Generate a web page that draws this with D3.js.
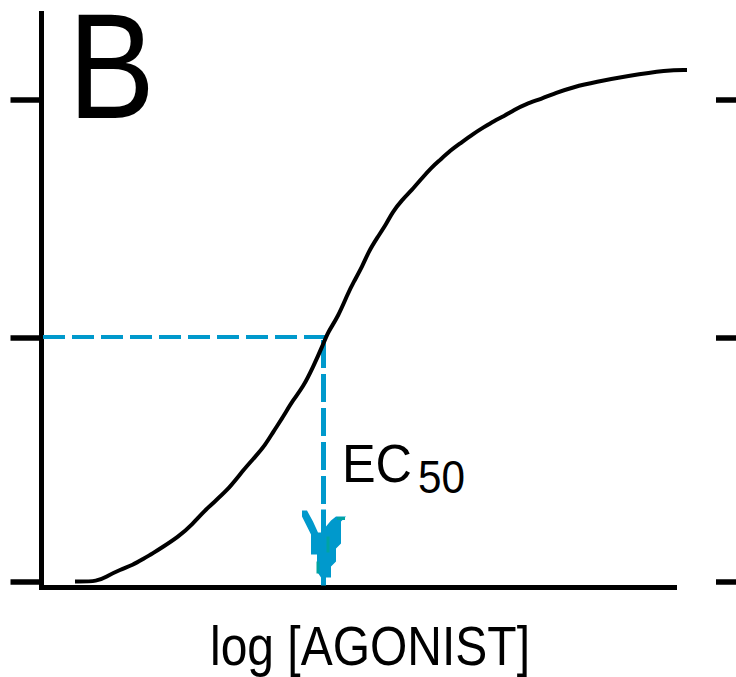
<!DOCTYPE html>
<html>
<head>
<meta charset="utf-8">
<script src="https://cdn.jsdelivr.net/npm/d3@7/dist/d3.min.js"></script>
<style>
  html, body { margin: 0; padding: 0; background: #fff; }
  svg { display: block; }
  text { font-family: "Liberation Sans", Arial, sans-serif; fill: #000; }
</style>
</head>
<body>
<svg id="chart"></svg>
<script>
// Dose-response curve (log agonist vs % response)
const logDose = [-9.65, -9.42, -9.33, -9.20, -9.07, -8.97, -8.87, -8.77, -8.62, -8.48,
  -8.33, -8.13, -7.97, -7.85, -7.75, -7.67, -7.57, -7.47, -7.37, -7.27,
  -7.17, -7.12, -7.02, -6.92, -6.87, -6.77, -6.72, -6.63, -6.53, -6.48,
  -6.38, -6.28, -6.18, -6.08, -6.01, -5.89, -5.81, -5.66, -5.56, -5.46,
  -5.36, -5.26, -5.14, -4.99, -4.84, -4.67, -4.44, -4.13, -3.73, -3.53];
const response = [0, 0, 1.1, 2.4, 3.4, 4.6, 5.8, 7.1, 9.1, 11.6,
  15.1, 18.5, 22.8, 25.5, 27.9, 30.6, 33.7, 37.2, 39.8, 43.9,
  48.5, 51.2, 54.3, 59.3, 61.4, 65.2, 67.8, 70.9, 74.1, 76.2,
  78.9, 81.0, 83.5, 85.8, 87.1, 89.4, 90.6, 92.9, 94.2, 95.5,
  96.5, 97.8, 99.1, 100.1, 101.4, 102.6, 103.7, 104.9, 106.2, 106.2];
const yTicks = [0, 50, 100];
const ec50 = -7.17;
const halfResponse = 50;
const panelLabel = "B";
const xLabel = "log [AGONIST]";
const ecLabel = "EC";
const ecSub = "50";

const width = 736, height = 677;
const blue = "#0099cc";

const svg = d3.select("#chart").attr("width", width).attr("height", height);

const x = d3.scaleLinear().domain([-10, -3.5]).range([40, 690]);
const y = d3.scaleLinear().domain([0, 50, 100]).range([581.5, 337.5, 99.5]);

// axes
svg.append("g")
  .attr("transform", "translate(41.5,0)")
  .call(d3.axisLeft(y).tickValues(yTicks).tickSize(31).tickFormat(""))
  .call(g => g.select(".domain").remove())
  .call(g => g.selectAll("line").attr("stroke", "#000").attr("stroke-width", 5.5));

svg.append("g")
  .attr("transform", "translate(716,0)")
  .call(d3.axisRight(y).tickValues(yTicks).tickSize(20).tickFormat(""))
  .call(g => g.select(".domain").remove())
  .call(g => g.selectAll("line").attr("stroke", "#000").attr("stroke-width", 5.5));

svg.append("line")
  .attr("x1", 41.5).attr("x2", 41.5).attr("y1", 11).attr("y2", 590)
  .attr("stroke", "#000").attr("stroke-width", 5);
svg.append("line")
  .attr("x1", 39).attr("x2", 677).attr("y1", y(0) + 6).attr("y2", y(0) + 6)
  .attr("stroke", "#000").attr("stroke-width", 5);

// EC50 guide lines
svg.append("line")
  .attr("x1", 43).attr("x2", x(ec50) + 4)
  .attr("y1", y(halfResponse) - 0.5).attr("y2", y(halfResponse) - 0.5)
  .attr("stroke", blue).attr("stroke-width", 4)
  .attr("stroke-dasharray", "22,7");
svg.append("line")
  .attr("x1", x(ec50) + 0.5).attr("x2", x(ec50) + 0.5)
  .attr("y1", y(halfResponse) + 2.5).attr("y2", y(0) - 72)
  .attr("stroke", blue).attr("stroke-width", 5)
  .attr("stroke-dasharray", "28,6");

// arrow head pointing down at EC50
const ax = x(ec50), ay = y(0);
const arrowPts = [[-21, -71], [-16, -71], [-10, -60], [-5, -49], [-2, -49], [-2, -72], [3, -72],
  [3, -55], [8, -61], [13, -65], [23, -65], [18, -60], [18, -38], [13, -33], [13, -20],
  [8, -15], [8, -4], [3, -4], [3, 4], [-2, 4], [-2, -4], [-6, -10], [-6, -27], [-12, -27],
  [-12, -47], [-17, -57], [-21, -65]];
svg.append("path")
  .attr("d", d3.line()(arrowPts.map(p => [ax + p[0], ay + p[1]])) + "Z")
  .attr("fill", blue);
svg.append("path")
  .attr("d", `M${ax + 14},${ay - 63}h8 M${ax + 5},${ay - 45}v16 M${ax - 5},${ay - 20}v12`)
  .attr("stroke", "#00a3a3").attr("stroke-width", 3).attr("fill", "none");

// curve (smoothed through the read points)
const pts = logDose.map((d, i) => [x(d), y(response[i])]);
svg.append("path")
  .attr("d", d3.line().curve(d3.curveBasis)(pts))
  .attr("fill", "none").attr("stroke", "#000").attr("stroke-width", 4);

// text
svg.append("text")
  .attr("x", 68).attr("y", 118)
  .attr("font-size", 150)
  .attr("textLength", 87).attr("lengthAdjust", "spacingAndGlyphs")
  .text(panelLabel);

svg.append("text")
  .attr("x", 210).attr("y", 665)
  .attr("font-size", 56)
  .attr("textLength", 320).attr("lengthAdjust", "spacingAndGlyphs")
  .text(xLabel);

svg.append("text")
  .attr("x", 342).attr("y", 482)
  .attr("font-size", 54)
  .attr("textLength", 70).attr("lengthAdjust", "spacingAndGlyphs")
  .text(ecLabel);
svg.append("text")
  .attr("x", 418).attr("y", 493)
  .attr("font-size", 46)
  .attr("textLength", 47).attr("lengthAdjust", "spacingAndGlyphs")
  .text(ecSub);
</script>
</body>
</html>
